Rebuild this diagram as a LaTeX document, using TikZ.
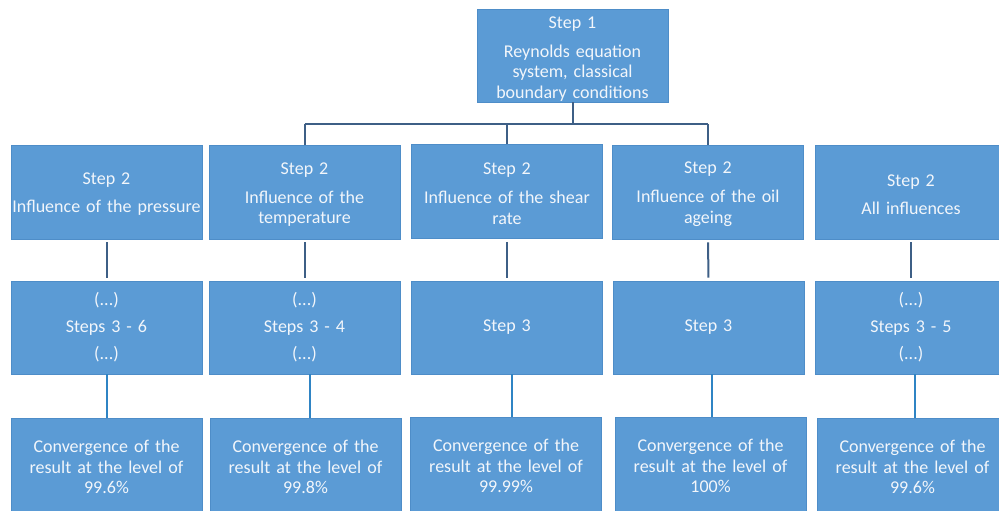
\documentclass[tikz,border=0pt]{standalone}
\usepackage{fontspec}
\setmainfont{Carlito}
\definecolor{boxfill}{HTML}{5B9BD5}
\definecolor{boxedge}{HTML}{4E8DC8}
\definecolor{darkline}{HTML}{3E5F86}
\definecolor{brightline}{HTML}{2F84C4}
\definecolor{txt}{HTML}{F2F6FB}
\newcommand{\topstrut}[1]{\rule{0pt}{#1}}
\begin{document}
\begin{tikzpicture}[x=1pt,y=-1pt,
  stepbox/.style={rectangle, fill=boxfill, draw=boxedge, line width=0.6pt,
    text=txt, inner xsep=0pt, inner ysep=0pt, minimum width=191pt, minimum height=93pt,
    text width=189pt, align=center, font=\fontsize{18}{20.5}\selectfont},
  endbox/.style={stepbox, minimum height=98pt},
  darkconn/.style={draw=darkline, line width=2pt},
  midconn/.style={draw=darkline, line width=2pt, shorten <=3pt, shorten >=3pt},
  lowconn/.style={draw=brightline, line width=2pt}]
\useasboundingbox (0,0) rectangle (999,511);
\begin{scope}
\clip (0,0) rectangle (999,511);
% top
\node[stepbox] (top) at (572.5,55.5) {\topstrut{18.5pt}Step 1\\[8.5pt]Reynolds equation\\system, classical\\boundary conditions};
% row 2
\node[stepbox, minimum height=94pt] (r2c1) at (106.5,192) {\topstrut{16.5pt}Step 2\\[7.5pt]Influence of the pressure};
\node[stepbox, minimum height=94pt] (r2c2) at (304.5,192) {\topstrut{16.5pt}Step 2\\[8.5pt]Influence of the\\temperature};
\node[stepbox, minimum height=94pt] (r2c3) at (507,191.5) {\topstrut{16.5pt}Step 2\\[8.5pt]Influence of the shear\\rate};
\node[stepbox, minimum height=94pt] (r2c4) at (708,192) {\topstrut{16.5pt}Step 2\\[8.5pt]Influence of the oil\\ageing};
\node[stepbox, minimum height=94pt] (r2c5) at (911,192) {\topstrut{16.5pt}Step 2\\[7.5pt]All influences};
% row 3
\node[stepbox] (r3c1) at (106.5,327.5) {(...)\\[6.5pt]Steps 3 - 6\\[6.5pt](...)};
\node[stepbox] (r3c2) at (304.5,327.5) {(...)\\[6.5pt]Steps 3 - 4\\[6.5pt](...)};
\node[stepbox] (r3c3) at (507,327.5) {Step 3};
\node[stepbox] (r3c4) at (708.5,327.5) {Step 3};
\node[stepbox] (r3c5) at (911,327.5) {(...)\\[6.5pt]Steps 3 - 5\\[6.5pt](...)};
% row 4
\node[endbox] (r4c1) at (106.5,467) {Convergence of the\\result at the level of\\99.6\%};
\node[endbox] (r4c2) at (305.5,467) {Convergence of the\\result at the level of\\99.8\%};
\node[endbox] (r4c3) at (506,466) {Convergence of the\\result at the level of\\99.99\%};
\node[endbox] (r4c4) at (710.5,466) {Convergence of the\\result at the level of\\100\%};
\node[endbox] (r4c5) at (912.5,467) {Convergence of the\\result at the level of\\99.6\%};
\end{scope}
% top connectors
\coordinate (bar) at (572.5,124);
\draw[darkconn] (top.south) -- (bar);
\draw[darkconn] (r2c2.north |- bar) -- (r2c4.north |- bar);
\draw[darkconn] (r2c2.north |- bar) -- (r2c2.north);
\draw[darkconn] (r2c3.north |- bar) -- (r2c3.north);
\draw[darkconn] (r2c4.north |- bar) -- (r2c4.north);
% row 2 to row 3
\foreach \c in {1,...,5} {
  \draw[midconn] (r2c\c.south) -- (r3c\c.north);
}
% row 3 to row 4
\draw[lowconn] ([xshift=0.5pt]r3c1.south) -- ([xshift=0.5pt]r3c1.south |- r4c1.north);
\draw[lowconn] ([xshift=5.5pt]r3c2.south) -- ([xshift=5.5pt]r3c2.south |- r4c2.north);
\draw[lowconn] ([xshift=5pt]r3c3.south) -- ([xshift=5pt]r3c3.south |- r4c3.north);
\draw[lowconn] ([xshift=3.5pt]r3c4.south) -- ([xshift=3.5pt]r3c4.south |- r4c4.north);
\draw[lowconn] ([xshift=4pt]r3c5.south) -- ([xshift=4pt]r3c5.south |- r4c5.north);
\end{tikzpicture}
\end{document}
